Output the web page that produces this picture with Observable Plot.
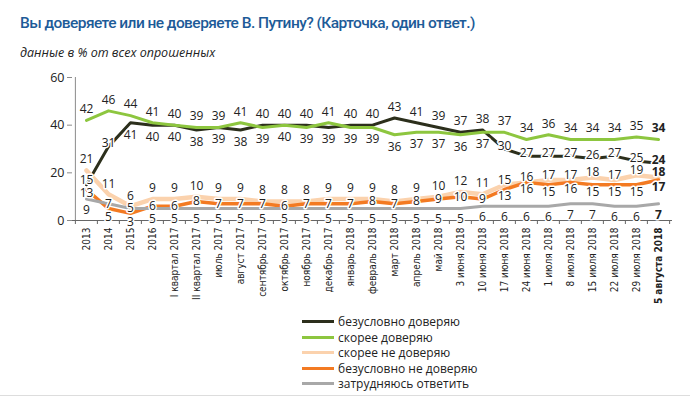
<!DOCTYPE html>
<html><head><meta charset="utf-8">
<script src="https://cdn.jsdelivr.net/npm/d3@7"></script>
<script src="https://cdn.jsdelivr.net/npm/@observablehq/plot@0.6"></script>
<style>
body{margin:0;background:#fff;}
#wrap{position:relative;width:690px;height:398px;overflow:hidden;font-family:"Open Sans",sans-serif;background:#fff;}
#title{position:absolute;left:20px;top:14px;font-family:Roboto,sans-serif;font-size:15.5px;font-weight:500;letter-spacing:-0.55px;color:#1d5b98;white-space:nowrap;}
#subtitle{position:absolute;left:20px;top:44px;font-size:12.5px;font-style:italic;color:#222;white-space:nowrap;}
#chart{position:absolute;left:0;top:62px;}
#legend{position:absolute;left:302px;top:314px;font-size:12px;color:#222;}
.row{display:flex;align-items:center;height:15.5px;}
.sw{width:32px;height:3px;margin-right:4px;}
#bottomline{position:absolute;left:0;top:395px;width:690px;height:1px;background:#ddd;}
</style></head>
<body>
<div id="wrap">
<div id="title">Вы доверяете или не доверяете В. Путину? (Карточка, один ответ.)</div>
<div id="subtitle">данные в % от всех опрошенных</div>
<div id="chart"></div>
<div id="legend"></div>
<div id="bottomline"></div>
</div>
<script>
const categories = ["2013","2014","2015","2016","I квартал 2017","II квартал 2017","июль 2017","август 2017","сентябрь 2017","октябрь 2017","ноябрь 2017","декабрь 2017","январь 2018","февраль 2018","март 2018","апрель 2018","май 2018","3 июня 2018","10 июня 2018","17 июня 2018","24 июня 2018","1 июля 2018","8 июля 2018","15 июля 2018","22 июля 2018","29 июля 2018","5 августа 2018"];
const dark   = [15,31,41,40,40,38,39,38,40,40,40,39,40,40,43,41,39,37,38,30,27,27,27,26,27,25,24];
const green  = [42,46,44,41,40,39,39,41,39,40,39,41,39,39,36,37,37,36,37,37,34,36,34,34,34,35,34];
const peach  = [21,11,6,9,9,10,9,9,8,8,8,9,9,9,8,9,10,12,11,15,16,17,17,18,17,19,18];
const orange = [13,5,3,6,6,8,7,7,7,6,7,7,7,8,7,8,9,10,9,13,16,15,16,15,15,15,17];
const gray   = [9,7,5,5,5,5,5,5,5,5,5,5,5,5,5,5,5,5,6,6,6,6,7,7,6,6,7];
const seriesNames = ["безусловно доверяю","скорее доверяю","скорее не доверяю","безусловно не доверяю","затрудняюсь ответить"];
const yTicks = [0,20,40,60];

const seriesColors = ["#2c2f1c","#8dc63f","#fbd2ad","#f37a22","#a8a8a8"];
const seriesWidths = [3,3,4.5,3.5,3];
const valuesBySeries = [dark, green, peach, orange, gray];
const lastIdx = categories.length - 1;

function offsets(i){
  const D=dark[i],G=green[i],P=peach[i],O=orange[i],R=gray[i];
  const off=[];
  if (D>G){off[0]=-11;off[1]=12;}
  else {off[1]=-11; off[0]=(G-D>5)?(D<P?-5:-3):12;}
  const late = (P-O<=4) && (O-R>=6);
  if (O<R){off[2]=-10;off[3]=9;off[4]=0;}
  else if (late){off[2]=-5;off[3]=7;off[4]=11;}
  else {off[2]=-11;off[3]=(D<P)?4:0;off[4]=11;}
  return off;
}
const rows=[];
valuesBySeries.forEach((vals,s)=>vals.forEach((v,i)=>rows.push({cat:categories[i],value:v,s,i,dy:offsets(i)[s]})));

const W=690, H=245, ML=72, MR=18, MT=15, MB=87;
const step=(W-ML-MR)/categories.length;

const marks=[];
marks.push(Plot.ruleX([categories[0]],{x:d=>d,y1:0,y2:60,dx:-step/2,stroke:"#8a8a8a",strokeWidth:1}));
marks.push(Plot.ruleY([0],{stroke:"#666",strokeWidth:1}));
marks.push(Plot.ruleX(categories,{x:d=>d,y1:0,y2:0,insetBottom:-4,dx:-step/2,stroke:"#666"}));
marks.push(Plot.ruleX([categories[lastIdx]],{x:d=>d,y1:0,y2:0,insetBottom:-4,dx:step/2,stroke:"#666"}));
marks.push(Plot.axisY({ticks:yTicks,tickSize:5,tickPadding:3,fontSize:12.5,label:null,stroke:"#8a8a8a",fill:"#222"}));
marks.push(Plot.axisX({ticks:categories.slice(0,lastIdx),tickRotate:-90,tickSize:0,tickPadding:7,fontSize:10,label:null,fill:"#222",fontFamily:"'Liberation Sans Narrow','DejaVu Sans Condensed',sans-serif"}));
marks.push(Plot.axisX({ticks:[categories[lastIdx]],tickRotate:-90,tickSize:0,tickPadding:7,fontSize:10,label:null,fill:"#222",fontWeight:"bold",fontFamily:"'Liberation Sans Narrow','DejaVu Sans Condensed',sans-serif"}));
valuesBySeries.forEach((vals,s)=>{
  marks.push(Plot.line(rows.filter(r=>r.s===s),{x:"cat",y:"value",stroke:seriesColors[s],strokeWidth:seriesWidths[s],strokeLinejoin:"round",strokeLinecap:"round"}));
});
const dys=[...new Set(rows.map(r=>r.dy))];
for (const d of dys){
  for (const bold of [false,true]){
    const sub=rows.filter(r=>r.dy===d && (r.i===lastIdx)===bold);
    if(!sub.length) continue;
    marks.push(Plot.text(sub,{x:"cat",y:"value",text:r=>String(r.value),dy:d,fontSize:12,fill:"#222",stroke:"white",strokeWidth:3,fontWeight:bold?"bold":"normal",lineAnchor:"middle"}));
  }
}

const chart=Plot.plot({
  width:W,height:H,marginLeft:ML,marginRight:MR,marginTop:MT,marginBottom:MB,
  style:{fontFamily:"'Open Sans',sans-serif",background:"transparent"},
  x:{type:"band",domain:categories,padding:0,axis:null},
  y:{domain:[0,60],axis:null},
  marks
});
document.getElementById("chart").appendChild(chart);

const legend=document.getElementById("legend");
seriesNames.forEach((n,s)=>{
  const row=document.createElement("div");row.className="row";
  const sw=document.createElement("div");sw.className="sw";sw.style.background=seriesColors[s];
  const t=document.createElement("span");t.textContent=n;
  row.appendChild(sw);row.appendChild(t);legend.appendChild(row);
});
</script>
</body></html>
